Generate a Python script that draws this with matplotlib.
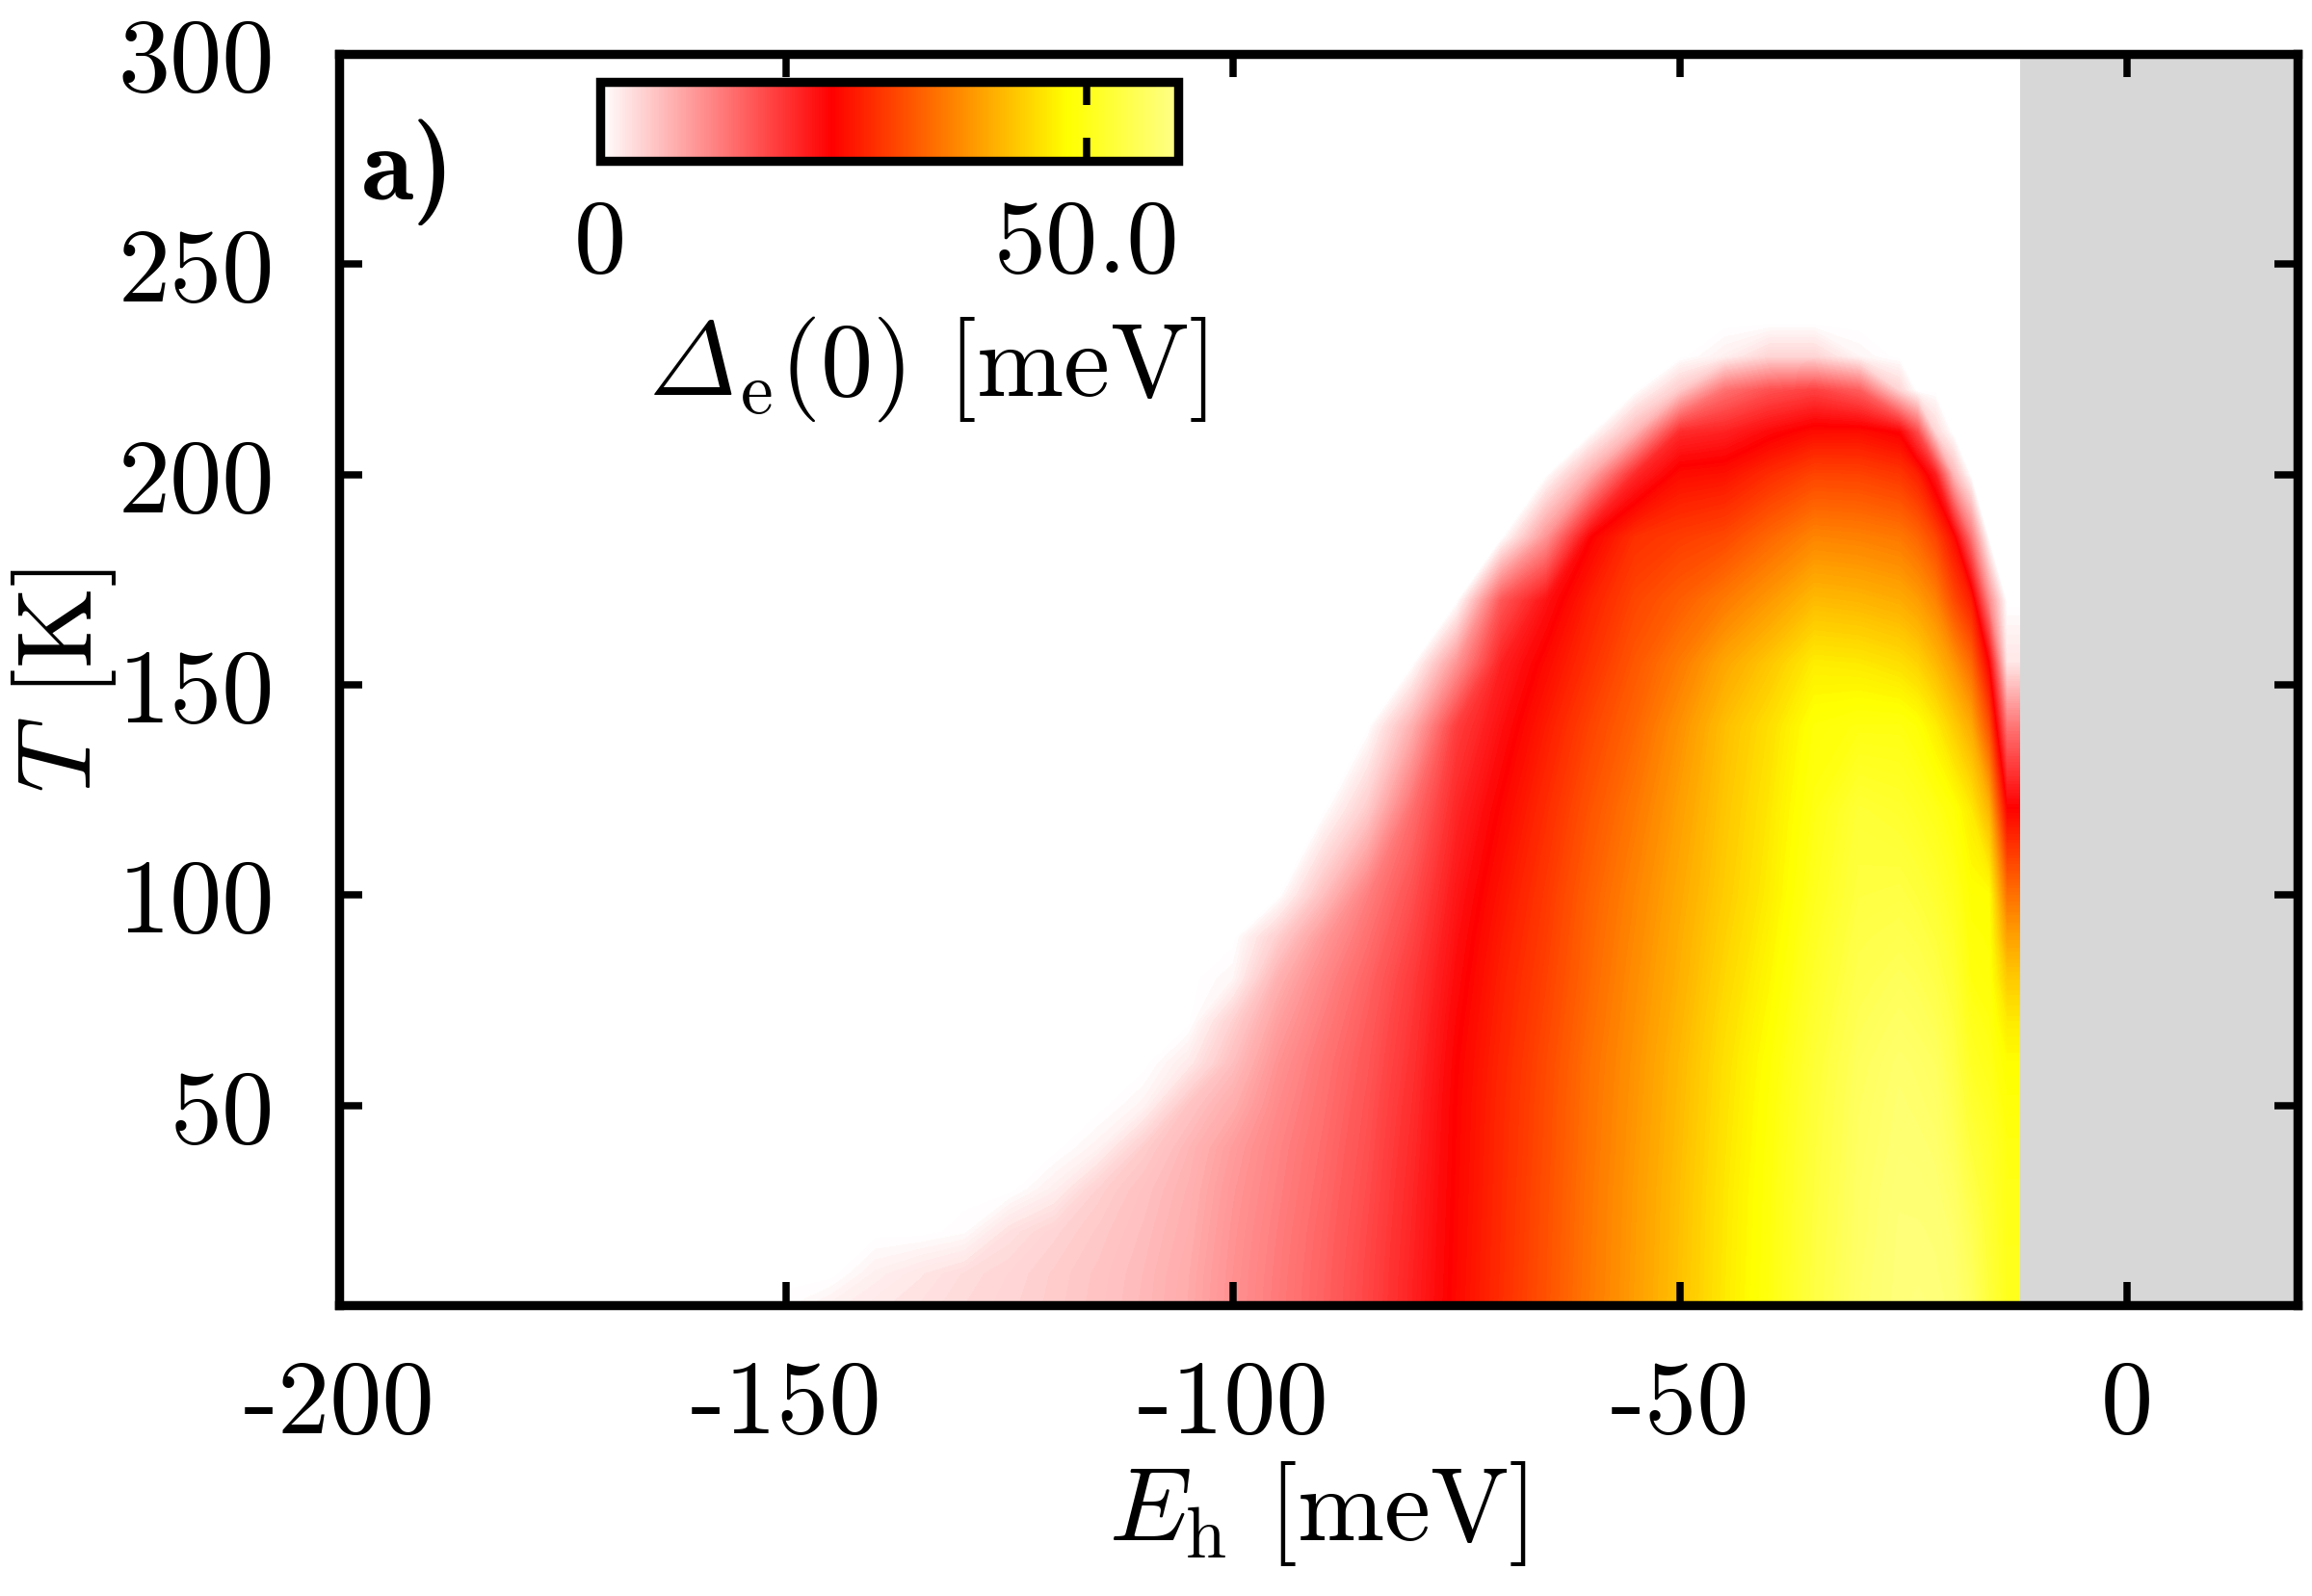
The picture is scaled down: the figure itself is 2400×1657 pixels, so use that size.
import numpy as np
import matplotlib
matplotlib.use("Agg")
import matplotlib.pyplot as plt
from matplotlib.colors import LinearSegmentedColormap, Normalize
from matplotlib.cm import ScalarMappable
from matplotlib.offsetbox import TextArea, HPacker, AnchoredOffsetbox

# ---------------- data ----------------
E_h_meV = [-150, -145, -140, -135, -130, -125, -120, -115, -110, -105, -100,
           -95, -90, -85, -80, -75, -70, -65, -60, -55, -50, -45, -40, -35,
           -30, -25.5, -23.5, -21.5, -19.5, -17.5, -15.5, -13.5, -12]
T_K = [2.5, 10, 20, 30, 40, 50, 60, 70, 80, 90, 100, 120, 140, 155, 170,
       185, 200, 210, 220, 228, 236]

# gap Delta_e(0) [meV]; one list per E_h column, entries follow T_K
gap_by_E = [
    [0.5, 0, 0, 0, 0, 0, 0, 0, 0, 0, 0, 0, 0, 0, 0, 0, 0, 0, 0, 0, 0],
    [1.5, 0, 0, 0, 0, 0, 0, 0, 0, 0, 0, 0, 0, 0, 0, 0, 0, 0, 0, 0, 0],
    [2.3, 1.5, 0, 0, 0, 0, 0, 0, 0, 0, 0, 0, 0, 0, 0, 0, 0, 0, 0, 0, 0],
    [2.9, 2.4, 0, 0, 0, 0, 0, 0, 0, 0, 0, 0, 0, 0, 0, 0, 0, 0, 0, 0, 0],
    [3.6, 3.3, 0.5, 0, 0, 0, 0, 0, 0, 0, 0, 0, 0, 0, 0, 0, 0, 0, 0, 0, 0],
    [4.2, 4.0, 2.9, 0, 0, 0, 0, 0, 0, 0, 0, 0, 0, 0, 0, 0, 0, 0, 0, 0, 0],
    [4.9, 4.8, 4.2, 1.6, 0, 0, 0, 0, 0, 0, 0, 0, 0, 0, 0, 0, 0, 0, 0, 0, 0],
    [5.7, 5.6, 5.2, 4.5, 1.3, 0, 0, 0, 0, 0, 0, 0, 0, 0, 0, 0, 0, 0, 0, 0, 0],
    [6.7, 6.6, 6.3, 5.9, 4.8, 1.2, 0, 0, 0, 0, 0, 0, 0, 0, 0, 0, 0, 0, 0, 0, 0],
    [8.1, 8.0, 7.7, 7.4, 6.9, 5.6, 2.0, 0, 0, 0, 0, 0, 0, 0, 0, 0, 0, 0, 0, 0, 0],
    [10.4, 10.3, 10.1, 9.8, 9.3, 7.8, 6.2, 4.5, 1.0, 0, 0, 0, 0, 0, 0, 0, 0, 0, 0, 0, 0],
    [12.5, 12.4, 12.2, 11.9, 11.6, 11.0, 10.2, 9.0, 7.4, 4.6, 0, 0, 0, 0, 0, 0, 0, 0, 0, 0, 0],
    [14.7, 14.6, 14.4, 14.1, 13.8, 13.4, 13.0, 12.2, 11.2, 9.6, 6.0, 0, 0, 0, 0, 0, 0, 0, 0, 0, 0],
    [17.3, 17.2, 17.0, 16.7, 16.4, 16.1, 15.7, 15.2, 14.5, 13.4, 12.0, 5.0, 0, 0, 0, 0, 0, 0, 0, 0, 0],
    [20.7, 20.6, 20.4, 20.2, 19.9, 19.6, 19.2, 18.8, 18.3, 17.4, 16.4, 13.6, 7.5, 0, 0, 0, 0, 0, 0, 0, 0],
    [24.5, 24.4, 24.3, 24.2, 24.1, 24.0, 23.8, 23.4, 22.9, 22.4, 21.8, 20.3, 18.1, 10.0, 0, 0, 0, 0, 0, 0, 0],
    [28.0, 27.9, 27.8, 27.7, 27.6, 27.5, 27.3, 27.0, 26.7, 26.2, 25.6, 24.2, 22.4, 20.7, 15.7, 0, 0, 0, 0, 0, 0],
    [31.5, 31.4, 31.3, 31.2, 31.0, 30.9, 30.7, 30.3, 29.9, 29.5, 29.1, 27.9, 26.3, 24.6, 22.1, 10.0, 0, 0, 0, 0, 0],
    [35.3, 35.2, 35.1, 35.0, 34.8, 34.7, 34.5, 34.1, 33.7, 33.4, 33.0, 31.8, 30.2, 28.4, 26.8, 23.7, 8.0, 0, 0, 0, 0],
    [38.7, 38.6, 38.5, 38.4, 38.2, 38.0, 37.8, 37.5, 37.2, 36.8, 36.4, 35.2, 33.5, 32.1, 30.4, 28.3, 20.0, 7.0, 0, 0, 0],
    [42.2, 42.1, 42.0, 41.9, 41.7, 41.5, 41.3, 40.9, 40.5, 40.2, 39.8, 38.9, 37.6, 35.5, 32.7, 29.5, 24.8, 19.8, 5.0, 0, 0],
    [46.0, 45.9, 45.8, 45.7, 45.5, 45.3, 45.1, 44.7, 44.2, 43.7, 43.2, 42.6, 41.9, 39.6, 35.4, 30.6, 25.3, 20.7, 13.3, 1.5, 0],
    [49.4, 49.3, 49.2, 49.1, 48.9, 48.7, 48.4, 47.9, 47.4, 46.9, 46.4, 45.8, 45.0, 42.7, 38.3, 33.6, 27.9, 23.0, 16.3, 4.0, 0],
    [53.5, 53.4, 53.3, 53.1, 52.9, 52.7, 52.4, 51.9, 51.4, 50.9, 50.3, 49.6, 48.7, 46.3, 41.5, 36.4, 30.2, 24.9, 17.7, 4.0, 0],
    [56.8, 56.7, 56.5, 56.4, 56.2, 56.0, 55.7, 55.1, 54.5, 54.0, 53.4, 52.5, 49.5, 46.0, 41.0, 36.0, 30.0, 25.0, 15.0, 1.0, 0],
    [58.2, 58.1, 58.0, 57.8, 57.5, 57.3, 57.0, 56.3, 55.5, 54.6, 53.7, 51.8, 49.5, 45.0, 40.1, 35.2, 28.9, 23.5, 4.0, 0, 0],
    [58.4, 58.2, 58.0, 57.7, 57.4, 57.0, 56.6, 55.8, 55.0, 54.0, 53.0, 51.0, 48.5, 43.8, 38.7, 33.5, 26.7, 17.0, 0, 0, 0],
    [58.2, 58.0, 57.8, 57.4, 57.0, 56.5, 56.0, 55.0, 54.0, 53.0, 52.0, 50.0, 46.4, 41.4, 36.3, 30.4, 21.1, 4.0, 0, 0, 0],
    [57.7, 57.4, 57.0, 56.3, 55.5, 54.8, 54.0, 53.2, 52.3, 51.4, 50.5, 48.7, 43.4, 38.2, 31.0, 25.0, 7.0, 0, 0, 0, 0],
    [56.0, 55.6, 55.0, 54.0, 53.0, 52.0, 51.0, 50.2, 49.3, 48.8, 48.3, 46.1, 40.0, 33.7, 26.5, 13.1, 0, 0, 0, 0, 0],
    [53.0, 52.7, 52.3, 51.9, 51.5, 50.8, 50.0, 49.4, 48.8, 48.5, 48.1, 41.0, 31.2, 23.6, 11.0, 0, 0, 0, 0, 0, 0],
    [50.5, 50.3, 50.0, 49.8, 49.5, 48.8, 48.0, 46.0, 43.0, 39.0, 34.5, 24.2, 13.0, 2.5, 0, 0, 0, 0, 0, 0, 0],
    [50.5, 50.3, 50.0, 49.8, 49.5, 48.8, 48.0, 46.0, 43.0, 39.0, 34.5, 24.2, 13.0, 2.5, 0, 0, 0, 0, 0, 0, 0],
]

gap_max = 59.4
gray_region_start = -12
x_ticks = [-200, -150, -100, -50, 0]
x_ticklabels = ["-200", "-150", "-100", "-50", "0"]
y_ticks = [50, 100, 150, 200, 250, 300]
y_ticklabels = ["50", "100", "150", "200", "250", "300"]
cbar_ticks = [0, 50]
cbar_ticklabels = ["0", "50.0"]

# ---------------- style ----------------
plt.rcParams["font.family"] = "serif"
plt.rcParams["font.serif"] = ["cmr10"]
plt.rcParams["mathtext.fontset"] = "cm"
plt.rcParams["axes.unicode_minus"] = False

FS = 39
LW = 3.4

cmap = LinearSegmentedColormap.from_list(
    "gapmap",
    [(0.0, "#ffffff"), (0.40, "#ff0000"), (0.81, "#ffff00"), (1.0, "#ffff88")],
    N=256)
norm = Normalize(vmin=0, vmax=gap_max)

fig = plt.figure(figsize=(12, 8.29), dpi=200)
ax = fig.add_axes([0.1467, 0.1819, 0.8469, 0.7839])

E_grid, T_grid = np.meshgrid(np.array(E_h_meV), np.array(T_K))
C = np.array(gap_by_E).T
levels = np.linspace(0.25, gap_max, 160)
ax.contourf(E_grid, T_grid, C, levels=levels, cmap=cmap, norm=norm,
            antialiased=False, zorder=1)

ax.axvspan(gray_region_start, 19, color="#d7d7d7", lw=0, zorder=0.5)

ax.set_xlim(-200, 19)
ax.set_ylim(2.5, 300)
ax.set_xticks(x_ticks)
ax.set_xticklabels(x_ticklabels)
ax.set_yticks(y_ticks)
ax.set_yticklabels(y_ticklabels)
ax.tick_params(axis="both", direction="in", top=True, right=True,
               length=8.8, width=2.7, labelsize=FS)
ax.tick_params(axis="x", pad=20)
ax.tick_params(axis="y", pad=24)
for s in ax.spines.values():
    s.set_linewidth(LW)
    s.set_zorder(5)

ax.set_xlabel(r"$E_\mathrm{h}$ [meV]", fontsize=FS, labelpad=2)
ax.set_ylabel(r"$T$ [K]", fontsize=FS, labelpad=0)

ax.text(0.011, 0.906, "a)", transform=ax.transAxes, fontfamily="cmb10",
        fontsize=40, ha="left", va="center", zorder=6)

# colorbar inset
cax = ax.inset_axes([0.1333, 0.914, 0.2952, 0.0636])
cbar = fig.colorbar(ScalarMappable(norm=norm, cmap=cmap), cax=cax,
                    orientation="horizontal")
cbar.set_ticks(cbar_ticks)
cbar.set_ticklabels(cbar_ticklabels)
cbar.outline.set_linewidth(LW)
cax.xaxis.set_ticks_position("both")
cax.tick_params(axis="x", direction="in", length=8.8, width=2.7,
                labelsize=FS, pad=14, labelbottom=True, labeltop=False)

# colorbar label with an italic Delta (cmmi10 glyph)
delta_part = TextArea("\u00a2", textprops=dict(fontfamily="cmmi10", fontsize=FS))
rest_part = TextArea(r"${}_\mathrm{e}$(0) [meV]", textprops=dict(fontsize=FS))
label_box = HPacker(children=[delta_part, rest_part], align="baseline", pad=0, sep=0)
anchored = AnchoredOffsetbox(loc="center", child=label_box, pad=0, borderpad=0,
                             frameon=False, bbox_to_anchor=(0.3005, 0.749),
                             bbox_transform=ax.transAxes)
anchored.set_zorder(6)
ax.add_artist(anchored)

fig.savefig("out.png", dpi=200)
